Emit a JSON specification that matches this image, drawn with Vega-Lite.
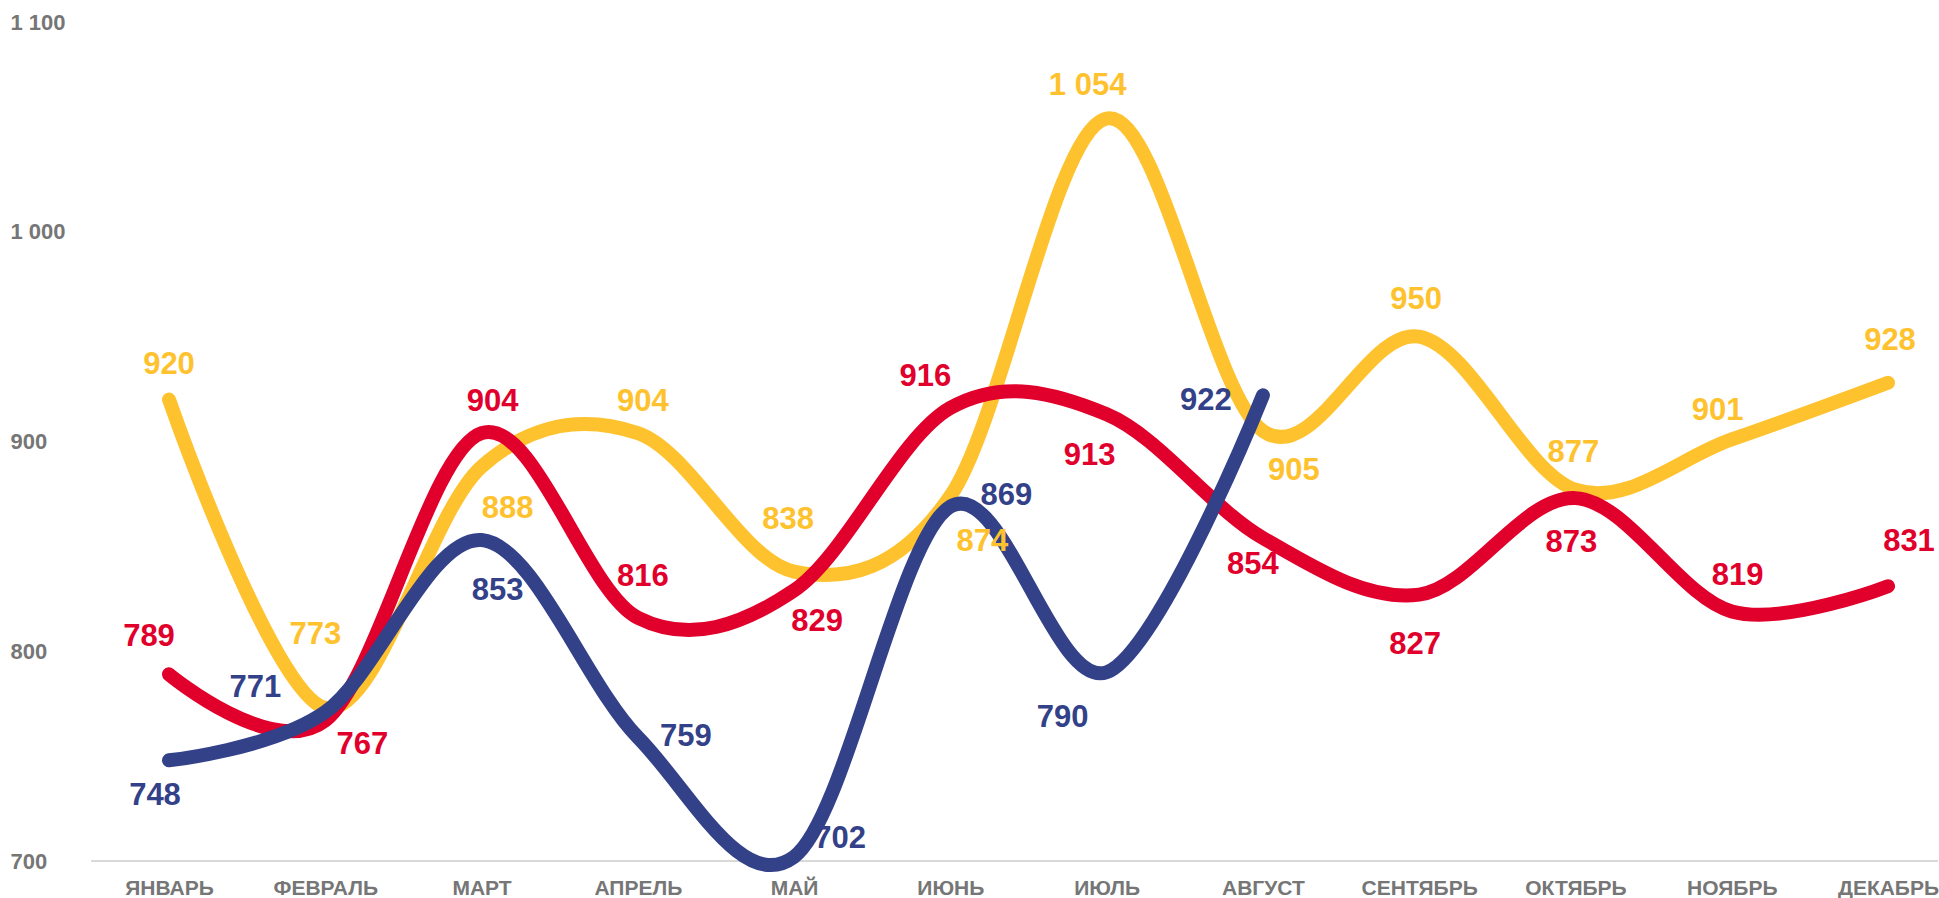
{
  "$schema": "https://vega.github.io/schema/vega-lite/v6.json",
  "autosize": {"type": "fit", "contains": "padding"},
  "width": 1939,
  "height": 898,
  "padding": {"left": 10, "top": 11, "right": 0, "bottom": 0},
  "background": "white",
  "params": [
    {"name": "months", "value": ["ЯНВАРЬ","ФЕВРАЛЬ","МАРТ","АПРЕЛЬ","МАЙ","ИЮНЬ","ИЮЛЬ","АВГУСТ","СЕНТЯБРЬ","ОКТЯБРЬ","НОЯБРЬ","ДЕКАБРЬ"]}
  ],
  "config": {
    "view": {"stroke": null},
    "locale": {"number": {"decimal": ",", "thousands": " ", "grouping": [3], "currency": ["", ""]}},
    "font": "Liberation Sans"
  },
  "data": {
    "values": [
      {"series": "Ряд 1", "month": "ЯНВАРЬ", "value": 920},
      {"series": "Ряд 1", "month": "ФЕВРАЛЬ", "value": 773},
      {"series": "Ряд 1", "month": "МАРТ", "value": 888},
      {"series": "Ряд 1", "month": "АПРЕЛЬ", "value": 904},
      {"series": "Ряд 1", "month": "МАЙ", "value": 838},
      {"series": "Ряд 1", "month": "ИЮНЬ", "value": 874},
      {"series": "Ряд 1", "month": "ИЮЛЬ", "value": 1054},
      {"series": "Ряд 1", "month": "АВГУСТ", "value": 905},
      {"series": "Ряд 1", "month": "СЕНТЯБРЬ", "value": 950},
      {"series": "Ряд 1", "month": "ОКТЯБРЬ", "value": 877},
      {"series": "Ряд 1", "month": "НОЯБРЬ", "value": 901},
      {"series": "Ряд 1", "month": "ДЕКАБРЬ", "value": 928},
      {"series": "Ряд 2", "month": "ЯНВАРЬ", "value": 789},
      {"series": "Ряд 2", "month": "ФЕВРАЛЬ", "value": 767},
      {"series": "Ряд 2", "month": "МАРТ", "value": 904},
      {"series": "Ряд 2", "month": "АПРЕЛЬ", "value": 816},
      {"series": "Ряд 2", "month": "МАЙ", "value": 829},
      {"series": "Ряд 2", "month": "ИЮНЬ", "value": 916},
      {"series": "Ряд 2", "month": "ИЮЛЬ", "value": 913},
      {"series": "Ряд 2", "month": "АВГУСТ", "value": 854},
      {"series": "Ряд 2", "month": "СЕНТЯБРЬ", "value": 827},
      {"series": "Ряд 2", "month": "ОКТЯБРЬ", "value": 873},
      {"series": "Ряд 2", "month": "НОЯБРЬ", "value": 819},
      {"series": "Ряд 2", "month": "ДЕКАБРЬ", "value": 831},
      {"series": "Ряд 3", "month": "ЯНВАРЬ", "value": 748},
      {"series": "Ряд 3", "month": "ФЕВРАЛЬ", "value": 771},
      {"series": "Ряд 3", "month": "МАРТ", "value": 853},
      {"series": "Ряд 3", "month": "АПРЕЛЬ", "value": 759},
      {"series": "Ряд 3", "month": "МАЙ", "value": 702},
      {"series": "Ряд 3", "month": "ИЮНЬ", "value": 869},
      {"series": "Ряд 3", "month": "ИЮЛЬ", "value": 790},
      {"series": "Ряд 3", "month": "АВГУСТ", "value": 922}
    ]
  },
  "layer": [
    {
      "data": {"values": [{"base": 700}]},
      "mark": {"type": "rule", "color": "#D9D9D9", "strokeWidth": 2},
      "encoding": {"y": {"field": "base", "type": "quantitative"}}
    },
    {
      "encoding": {
        "x": {
          "field": "month", "type": "ordinal",
          "sort": ["ЯНВАРЬ","ФЕВРАЛЬ","МАРТ","АПРЕЛЬ","МАЙ","ИЮНЬ","ИЮЛЬ","АВГУСТ","СЕНТЯБРЬ","ОКТЯБРЬ","НОЯБРЬ","ДЕКАБРЬ"],
          "scale": {"type": "point", "padding": 0, "range": [78, 1797]},
          "axis": {
            "title": null, "domain": false, "ticks": false, "tickSize": 0, "grid": false,
            "labelAngle": 0, "labelPadding": 16, "labelBaseline": "top",
            "labelFont": "Liberation Sans", "labelFontSize": 21, "labelFontWeight": "bold",
            "labelColor": "#767676"
          }
        },
        "y": {
          "field": "value", "type": "quantitative",
          "scale": {"domain": [700, 1100], "nice": false, "zero": false},
          "axis": {
            "title": null, "domain": false, "ticks": false, "tickSize": 0, "grid": false,
            "values": [700, 800, 900, 1000, 1100], "format": ",.0f",
            "labelAlign": "left", "labelPadding": 81, "labelBaseline": "middle",
            "minExtent": 81, "maxExtent": 81,
            "labelFont": "Liberation Sans", "labelFontSize": 22, "labelFontWeight": "bold",
            "labelColor": "#767676"
          }
        },
        "color": {
          "field": "series", "type": "nominal",
          "scale": {"domain": ["Ряд 1", "Ряд 2", "Ряд 3"], "range": ["#FFC22F", "#E1002B", "#334189"]},
          "legend": null
        }
      },
      "layer": [
        {
          "transform": [{"filter": "datum.series === 'Ряд 1'"}],
          "mark": {"type": "line", "interpolate": "cardinal", "tension": 0, "strokeWidth": 14, "strokeCap": "round", "strokeJoin": "round"}
        },
        {
          "transform": [{"filter": "datum.series === 'Ряд 2'"}],
          "mark": {"type": "line", "interpolate": "cardinal", "tension": 0, "strokeWidth": 14, "strokeCap": "round", "strokeJoin": "round"}
        },
        {
          "transform": [{"filter": "datum.series === 'Ряд 3'"}],
          "mark": {"type": "line", "interpolate": "cardinal", "tension": 0, "strokeWidth": 14, "strokeCap": "round", "strokeJoin": "round"}
        },
        {
          "transform": [{"filter": "datum.series === 'Ряд 1'"}],
          "mark": {
            "type": "text", "font": "Liberation Sans", "fontSize": 31, "fontWeight": "bold",
            "align": "center", "baseline": "middle",
            "dx": {"expr": "[0, -10, 26, 5, -6, 32, -19, 31, -3, -2, -14, 2][indexof(months, datum.month)]"},
            "dy": {"expr": "[-35, -73, 42, -31, -52, 46, -32, 40, -37, -37, -28, -42][indexof(months, datum.month)]"}
          },
          "encoding": {"text": {"field": "value", "type": "quantitative", "format": ","}}
        },
        {
          "transform": [{"filter": "datum.series === 'Ряд 2'"}],
          "mark": {
            "type": "text", "font": "Liberation Sans", "fontSize": 31, "fontWeight": "bold",
            "align": "center", "baseline": "middle",
            "dx": {"expr": "[-20, 37, 11, 5, 23, -25, -17, -10, -4, -4, 6, 21][indexof(months, datum.month)]"},
            "dy": {"expr": "[-37, 25, -31, -41, 32, -31, 42, 27, 50, 45, -35, -44][indexof(months, datum.month)]"}
          },
          "encoding": {"text": {"field": "value", "type": "quantitative", "format": ","}}
        },
        {
          "transform": [{"filter": "datum.series === 'Ряд 3'"}],
          "mark": {
            "type": "text", "font": "Liberation Sans", "fontSize": 31, "fontWeight": "bold",
            "align": "center", "baseline": "middle",
            "dx": {"expr": "[-14, -70, 16, 48, 46, 56, -44, -57][indexof(months, datum.month)]"},
            "dy": {"expr": "[36, -24, 51, 0, -18, -11, 46, 6][indexof(months, datum.month)]"}
          },
          "encoding": {"text": {"field": "value", "type": "quantitative", "format": ","}}
        }
      ]
    }
  ]
}
